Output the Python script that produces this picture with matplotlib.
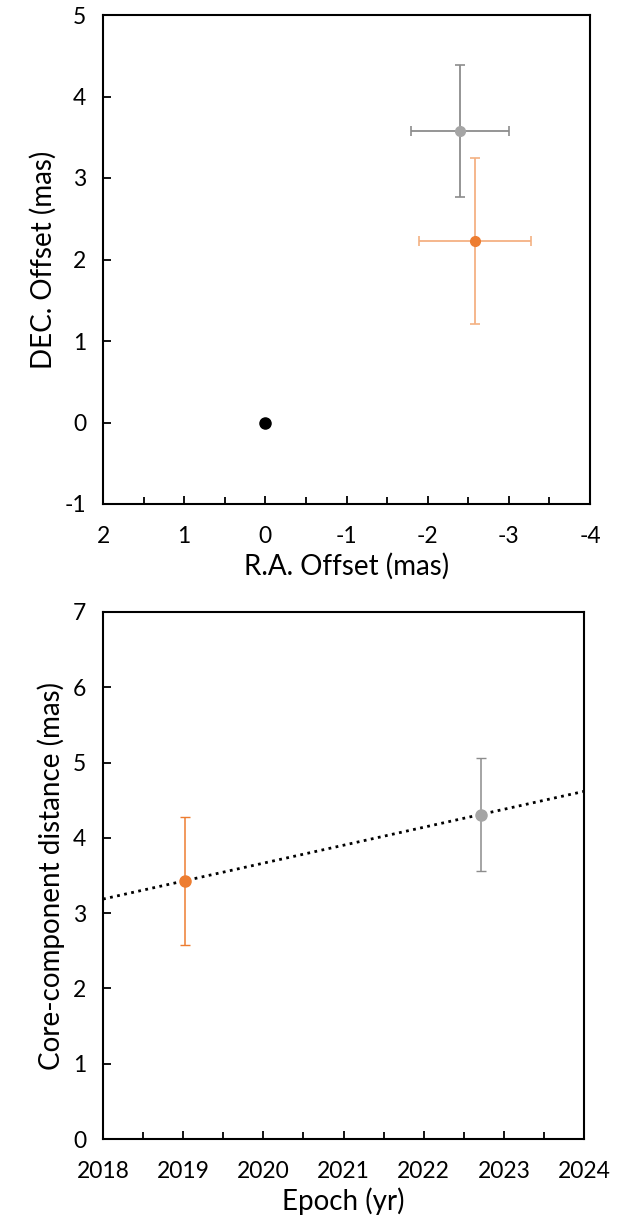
import numpy as np
import matplotlib.pyplot as plt
from matplotlib.ticker import MultipleLocator

plt.rcParams['font.family'] = ['Lato', 'DejaVu Sans']
plt.rcParams['axes.unicode_minus'] = False

# top panel: component positions relative to core (mas)
core_ra, core_dec = [0.0], [0.0]
ra = [-2.40, -2.58]
dec = [3.58, 2.23]
ra_err = [0.60, 0.69]
dec_err = [0.81, 1.02]

# bottom panel: core-component distance vs epoch
epoch = [2019.02, 2022.71]
dist = [3.43, 4.31]
dist_err = [0.85, 0.75]

marker_cols = ['#A5A5A5', '#ED7D31']
top_err_cols = ['#8C8C8C', '#F4B183']
bot_err_cols = ['#ED7D31', '#8C8C8C']
bot_marker_cols = ['#ED7D31', '#A5A5A5']

fig = plt.figure(figsize=(6.22, 12.26), dpi=100)
W, H = 622, 1226
ax1 = fig.add_axes([103 / W, 1 - 504 / H, 487 / W, 489 / H])
ax2 = fig.add_axes([103 / W, 1 - 1139 / H, 481 / W, 527 / H])

def style(ax):
    for s in ax.spines.values():
        s.set_linewidth(1.5)
        s.set_color('black')
    ax.tick_params(which='both', direction='in', width=1.3, labelsize=16.5, pad=16)
    ax.tick_params(which='major', length=6)
    ax.tick_params(which='minor', length=5)
    ax.tick_params(axis='y', which='both', pad=12)

# --- top
for i in range(2):
    ax1.errorbar(ra[i], dec[i], xerr=ra_err[i], yerr=dec_err[i], fmt='none',
                 ecolor=top_err_cols[i], elinewidth=1.3, capsize=3.5, capthick=1.2)
    ax1.plot(ra[i], dec[i], 'o', color=marker_cols[i], ms=7, zorder=3)
ax1.plot(core_ra, core_dec, 'o', color='black', ms=8, zorder=3)
ax1.set_xlim(2, -4)
ax1.set_ylim(-1, 5)
ax1.xaxis.set_major_locator(MultipleLocator(1))
ax1.xaxis.set_minor_locator(MultipleLocator(0.5))
ax1.yaxis.set_major_locator(MultipleLocator(1))
style(ax1)
ax1.set_xlabel('R.A. Offset (mas)', fontsize=20, labelpad=4)
ax1.set_ylabel('DEC. Offset (mas)', fontsize=20, labelpad=6)

# --- bottom
slope, icpt = np.polyfit(epoch, dist, 1)
xx = np.array([2018, 2024])
ax2.plot(xx, slope * xx + icpt, ls=(0, (1, 1.6)), color='black', lw=2, zorder=1)
for i in range(2):
    ax2.errorbar(epoch[i], dist[i], yerr=dist_err[i], fmt='none',
                 ecolor=bot_err_cols[i], elinewidth=1.1, capsize=3.5, capthick=1.0)
    ax2.plot(epoch[i], dist[i], 'o', color=bot_marker_cols[i], ms=8, zorder=3)
ax2.set_xlim(2018, 2024)
ax2.set_ylim(0, 7)
ax2.xaxis.set_major_locator(MultipleLocator(1))
ax2.xaxis.set_minor_locator(MultipleLocator(0.5))
ax2.yaxis.set_major_locator(MultipleLocator(1))
style(ax2)
ax2.set_xlabel('Epoch (yr)', fontsize=20, labelpad=4)
ax2.set_ylabel('Core-component distance (mas)', fontsize=20, labelpad=6)

fig.savefig('out.png', dpi=100)
